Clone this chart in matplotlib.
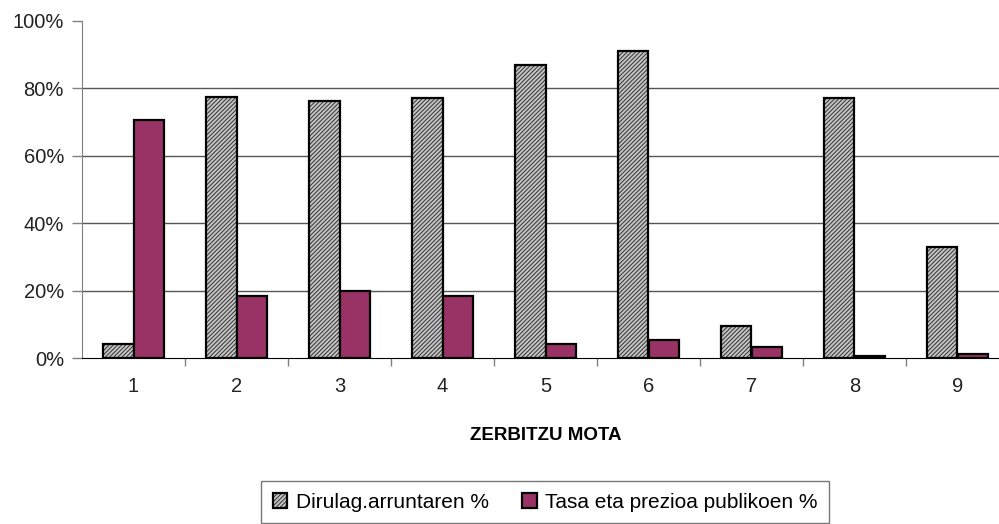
import matplotlib
matplotlib.use('Agg')
import matplotlib.pyplot as plt
import numpy as np

plt.rcParams['font.family'] = ['Liberation Sans', 'DejaVu Sans']
plt.rcParams['hatch.linewidth'] = 0.7
plt.rcParams['hatch.color'] = '#333333'

# data
categories = ['1', '2', '3', '4', '5', '6', '7', '8', '9']
dirulag = [4.2, 77.4, 76.2, 77.2, 86.8, 91.0, 9.5, 77.2, 33.0]
tasa = [70.6, 18.5, 20.0, 18.5, 4.2, 5.4, 3.4, 0.6, 1.2]
yticks = [0, 20, 40, 60, 80, 100]
label_dirulag = 'Dirulag.arruntaren %'
label_tasa = 'Tasa eta prezioa publikoen %'
xlabel = 'ZERBITZU MOTA'

fig = plt.figure(figsize=(9.99, 5.24), dpi=100)
ax = fig.add_axes([82 / 999, (524 - 358) / 524, 927 / 999, 337 / 524])

x = np.arange(len(categories))
w = 0.3
b1 = ax.bar(x - w / 2, dirulag, w, facecolor='#c4c4c4', edgecolor='black',
            hatch='////////', linewidth=1.6, label=label_dirulag, zorder=3)
b2 = ax.bar(x + w / 2, tasa, w, facecolor='#993366', edgecolor='black',
            linewidth=1.6, label=label_tasa, zorder=3)
# keep the bar outline black while the hatch uses hatch.color
for p in b1:
    p._hatch_color = matplotlib.colors.to_rgba('#333333')

ax.set_xlim(-0.5, len(categories) - 0.5)
ax.set_ylim(0, 100)
ax.set_yticks(yticks)
ax.set_yticklabels([f'{t}%' for t in yticks], fontsize=14.5, color='#222222')
ax.set_xticks(x)
ax.set_xticklabels(categories, fontsize=14.5, color='#222222')
ax.set_xticks(np.arange(0.5, len(categories) - 0.5, 1), minor=True)
ax.tick_params(axis='x', which='major', length=0, pad=14)
ax.tick_params(axis='x', which='minor', length=6, color='#808080', width=1)
ax.tick_params(axis='y', length=7, color='#808080', width=1, pad=6)

for t in yticks[1:-1]:
    ax.axhline(t, color='#555555', linewidth=1, zorder=1)

ax.spines['top'].set_visible(False)
ax.spines['right'].set_visible(False)
ax.spines['left'].set_color('#808080')
ax.spines['bottom'].set_color('black')

ax.set_xlabel(xlabel, fontsize=13.5, fontweight='bold', labelpad=22)

fig.legend(handles=[b1, b2], loc='center', bbox_to_anchor=(545 / 999, 22 / 524),
           ncol=2, fontsize=15, frameon=True, fancybox=False, edgecolor='#555555',
           handlelength=0.7, handleheight=0.7, handletextpad=0.4,
           columnspacing=1.6, borderpad=0.55)

fig.savefig('out.png', dpi=100)
